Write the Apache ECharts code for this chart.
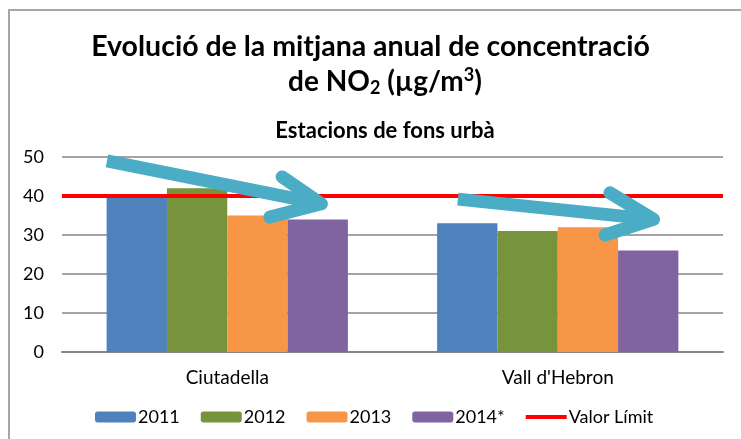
<!DOCTYPE html>
<html>
<head>
<meta charset="utf-8">
<script src="https://cdn.jsdelivr.net/npm/echarts@6/dist/echarts.min.js"></script>
<style>
  body { margin: 0; background: #fff; }
  #frame {
    position: absolute;
    left: 8px;
    top: 9px;
    width: 760px;
    height: 460px;
    border: 2px solid #a6a6a6;
  }
  #chart { position: absolute; left: 0; top: 0; width: 741px; height: 439px; }
</style>
</head>
<body>
<div id="frame"></div>
<div id="chart"></div>
<script>
// categories and values
var stations = ["Ciutadella", "Vall d'Hebron"];
var years = ["2011", "2012", "2013", "2014*"];
var values2011 = [40, 33];
var values2012 = [42, 31];
var values2013 = [35, 32];
var values2014 = [34, 26];
var limitValue = 40;
var yTicks = [0, 10, 20, 30, 40, 50];

// trend arrows (annotation), in [category position, µg/m³]
var arrow1Shaft = [[0.136, 49.0], [0.785, 38.0]];
var arrow1Head = [[0.666, 44.9], [0.785, 38.0], [0.629, 34.6]];
var arrow2Shaft = [[1.198, 39.2], [1.79, 34.0]];
var arrow2Head = [[1.658, 40.8], [1.79, 34.0], [1.643, 30.0]];

var colors = ["#4F81BD", "#77933C", "#F79646", "#8064A2"];
var font = "Lato";

var chart = echarts.init(document.getElementById("chart"));

function barSeries(name, data, color) {
  return {
    name: name,
    type: "bar",
    data: data,
    barGap: "0%",
    barCategoryGap: "27%",
    itemStyle: { color: color },
    z: 2
  };
}

function arrowSeries(data, cap) {
  return {
    type: "line",
    xAxisIndex: 1,
    data: data,
    symbol: "none",
    silent: true,
    lineStyle: { color: "#4BACC6", width: 13, cap: cap, join: "round" },
    z: 5
  };
}

chart.setOption({
  animation: false,
  textStyle: { fontFamily: font },
  title: [
    {
      text: "Evolució de la mitjana anual de concentració",
      left: "center",
      top: 27,
      textStyle: { fontFamily: font, fontSize: 28.5, fontWeight: "bold", color: "#000" }
    },
    {
      text: "de NO{sub|2} (µg/m{sup|3})",
      left: 380,
      top: 61,
      textAlign: "center",
      textStyle: {
        fontFamily: font, fontSize: 28, fontWeight: "bold", color: "#000",
        rich: {
          sub: { fontFamily: font, fontSize: 18, fontWeight: "bold", verticalAlign: "bottom", padding: [13, 0, 0, 0] },
          sup: { fontFamily: font, fontSize: 18, fontWeight: "bold", verticalAlign: "top", padding: [0, 0, 10, 0] }
        }
      }
    },
    {
      text: "Estacions de fons urbà",
      left: 380,
      top: 115,
      textAlign: "center",
      textStyle: { fontFamily: font, fontSize: 22, fontWeight: "bold", color: "#000" }
    }
  ],
  legend: {
    left: 90,
    top: 403,
    itemWidth: 41,
    itemHeight: 11,
    itemGap: 21,
    data: years.concat([{ name: "Valor Límit", icon: "path://M0,0 L41,0 L41,4 L0,4 Z" }]),
    textStyle: { fontFamily: font, fontSize: 18, color: "#000", padding: [0, 0, 0, -3] }
  },
  grid: { left: 62, right: 18, top: 157, bottom: 87 },
  xAxis: [
    {
      type: "category",
      data: stations,
      axisLine: { lineStyle: { color: "#868686", width: 2 } },
      axisTick: { show: false },
      axisLabel: { fontFamily: font, fontSize: 19, color: "#000", margin: 16 }
    },
    { type: "value", min: 0, max: 2, show: false }
  ],
  yAxis: {
    type: "value",
    min: yTicks[0],
    max: yTicks[yTicks.length - 1],
    interval: 10,
    axisLine: { show: false },
    axisTick: { show: false },
    splitLine: { lineStyle: { color: "#868686", width: 1.5 } },
    axisLabel: { fontFamily: font, fontSize: 18, color: "#000", margin: 18 }
  },
  series: [
    barSeries(years[0], values2011, colors[0]),
    barSeries(years[1], values2012, colors[1]),
    barSeries(years[2], values2013, colors[2]),
    barSeries(years[3], values2014, colors[3]),
    {
      name: "Valor Límit",
      type: "line",
      xAxisIndex: 1,
      data: [[0, limitValue], [2, limitValue]],
      symbol: "none",
      itemStyle: { color: "#FF0000" },
      lineStyle: { color: "#FF0000", width: 4 },
      z: 4
    },
    arrowSeries(arrow1Shaft, "butt"),
    arrowSeries(arrow1Head, "round"),
    arrowSeries(arrow2Shaft, "butt"),
    arrowSeries(arrow2Head, "round")
  ]
});
</script>
</body>
</html>
